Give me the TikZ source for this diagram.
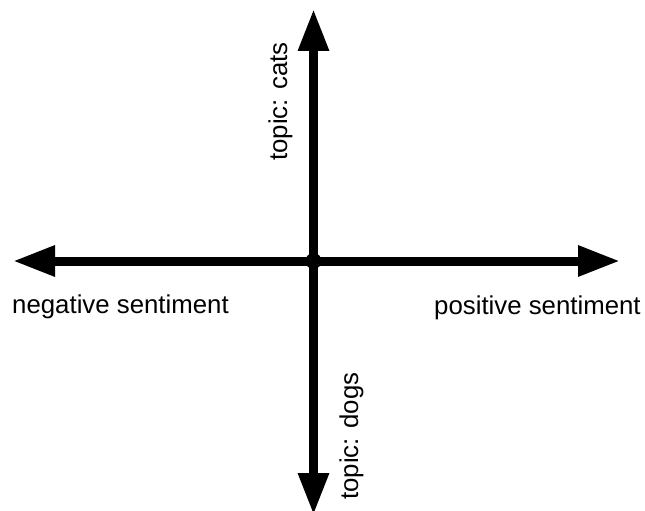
\documentclass[tikz,border=0pt]{standalone}
\usepackage{fontspec}
\setmainfont{Liberation Sans}
\usetikzlibrary{arrows.meta}
\begin{document}
\begin{tikzpicture}[x=1pt,y=-1pt,
  axis/.style={line width=9pt,-{Triangle[length=42pt,width=29pt]}},
  lbl/.style={inner sep=0pt,font=\fontsize{25.8}{30}\selectfont},
  dotnode/.style={circle,fill=black,inner sep=0pt,minimum size=16pt}]
\useasboundingbox (0,0) rectangle (645,511);
\node[dotnode] (o) at (313.5,261) {};
\coordinate (l) at (13,261);
\coordinate (r) at (620,261);
\coordinate (t) at (313.5,9);
\coordinate (b) at (313.5,515);
\draw[axis] (o.center) -- (l);
\draw[axis] (o.center) -- (r);
\draw[axis] (o.center) -- (t);
\draw[axis] (o.center) -- (b);
\node[lbl,anchor=base west] (neg) at (12,313) {negative sentiment};
\node[lbl,anchor=base west] (pos) at (434,314) {positive sentiment};
\node[lbl,anchor=base west,rotate=90] (cats) at (287,161) {topic: cats};
\node[lbl,anchor=base west,rotate=90] (dogs) at (358,500) {topic: dogs};
\end{tikzpicture}
\end{document}
